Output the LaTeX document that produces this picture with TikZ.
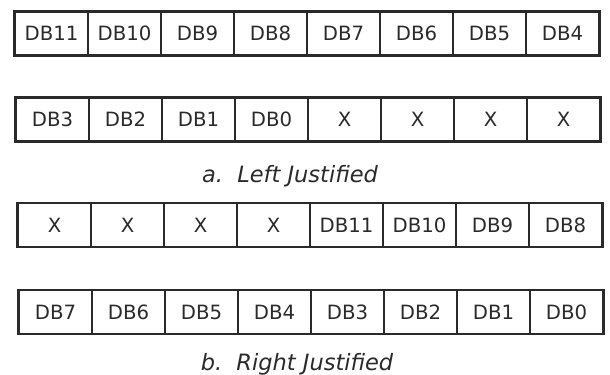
\documentclass[tikz,border=0pt]{standalone}
\usepackage{fontspec}
\usepackage{xcolor}
\usepackage{tikz}
\usetikzlibrary{positioning}
\newfontfamily\helv{DejaVu Sans}
\definecolor{ink}{HTML}{2A2A2A}

\begin{document}
\begin{tikzpicture}[x=0.025cm, y=-0.025cm,
  cell/.style={draw=ink, line width=1.1pt, minimum width=1.825cm, minimum height=1.075cm,
    inner sep=0pt, text=ink, font=\helv\fontsize{14}{17}\selectfont},
  caption/.style={anchor=base, text=ink, font=\helv\itshape\fontsize{16}{19}\selectfont},
  frame/.style={draw=ink, line width=1.6pt}]
  \useasboundingbox (0,0) rectangle (610,374);

  % a. left justified
  \foreach \lab [count=\i] in {DB11,DB10,DB9,DB8,DB7,DB6,DB5,DB4}
    \node[cell] (la\i) at ({15+73*(\i-0.5)},33.5) {\lab};
  \draw[frame] (la1.north west) rectangle (la8.south east);
  \foreach \lab [count=\i] in {DB3,DB2,DB1,DB0,X,X,X,X}
    \node[cell] (lb\i) at ({16+73*(\i-0.5)},119.5) {\lab};
  \draw[frame] (lb1.north west) rectangle (lb8.south east);
  \node[caption] (capa) at (290,182) {a.\ \ Left Justified};

  % b. right justified
  \foreach \lab [count=\i] in {X,X,X,X,DB11,DB10,DB9,DB8}
    \node[cell] (ra\i) at ({18+73*(\i-0.5)},225) {\lab};
  \draw[frame] (ra1.north west) rectangle (ra8.south east);
  \foreach \lab [count=\i] in {DB7,DB6,DB5,DB4,DB3,DB2,DB1,DB0}
    \node[cell] (rb\i) at ({19+73*(\i-0.5)},312) {\lab};
  \draw[frame] (rb1.north west) rectangle (rb8.south east);
  \node[caption] (capb) at (297,370) {b.\ \ Right Justified};
\end{tikzpicture}
\end{document}
